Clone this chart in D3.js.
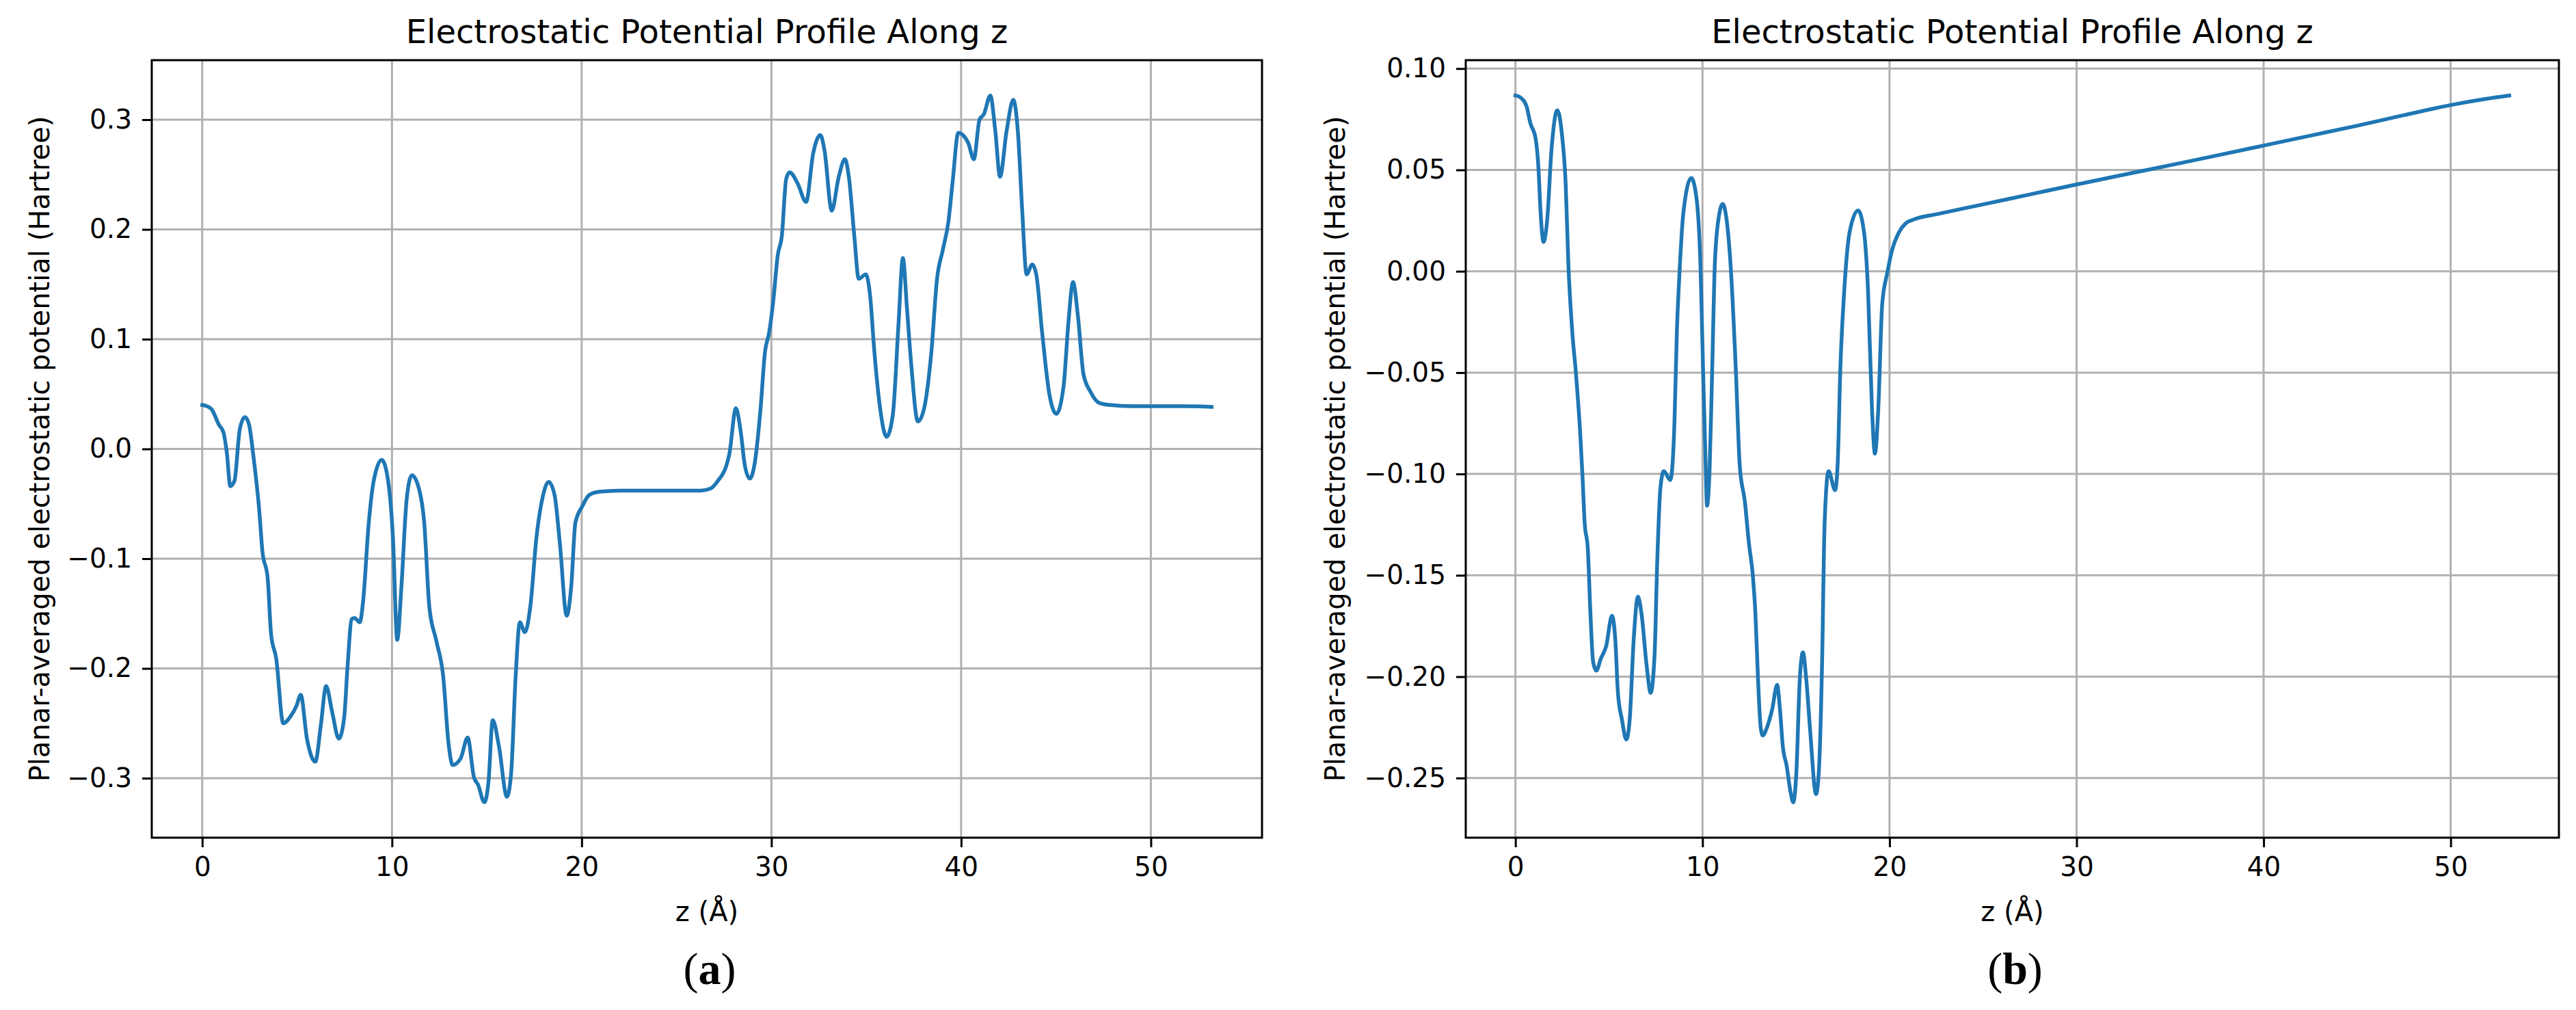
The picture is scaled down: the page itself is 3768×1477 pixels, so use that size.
<!DOCTYPE html>
<html><head><meta charset="utf-8">
<script src="https://cdn.jsdelivr.net/npm/d3@7"></script>
<style>html,body{margin:0;padding:0;background:#fff;} svg{display:block;}</style>
</head><body>
<script>
// ---- Data ----
const zA = [0.00,0.24,0.50,0.88,1.12,1.30,1.48,1.70,1.98,2.25,2.47,2.70,3.00,3.17,3.45,3.63,3.90,4.27,4.64,4.97,5.19,5.52,5.96,6.25,6.53,6.84,7.20,7.48,7.66,7.88,8.03,8.30,8.49,8.76,9.04,9.46,9.77,10.05,10.28,10.50,10.78,11.05,11.42,11.70,11.97,12.34,12.70,12.98,13.20,13.62,13.99,14.32,14.54,14.87,15.09,15.31,15.64,16.06,16.28,16.52,16.74,17.01,17.29,17.62,17.93,18.26,18.57,18.85,19.21,19.45,19.67,20.04,20.40,20.95,22.00,24.00,26.28,26.80,27.18,27.63,27.78,28.13,28.38,28.60,28.86,29.13,29.43,29.66,29.88,30.10,30.33,30.55,30.78,30.96,31.38,31.83,32.20,32.58,32.80,33.18,33.55,33.88,34.08,34.38,34.60,34.98,35.20,35.43,35.73,36.07,36.40,36.70,36.93,37.15,37.38,37.72,38.05,38.43,38.73,39.03,39.33,39.55,39.85,40.37,40.67,40.97,41.20,41.54,41.80,42.05,42.40,42.75,43.00,43.22,43.45,43.75,43.97,44.27,44.65,45.02,45.40,45.65,45.90,46.15,46.45,46.82,47.27,47.87,49.00,52.50,53.20];
const vA = [0.040,0.039,0.036,0.022,0.015,-0.004,-0.034,-0.029,0.018,0.029,0.022,-0.007,-0.055,-0.093,-0.118,-0.169,-0.191,-0.250,-0.244,-0.234,-0.224,-0.264,-0.285,-0.252,-0.216,-0.239,-0.264,-0.245,-0.198,-0.155,-0.154,-0.158,-0.137,-0.071,-0.029,-0.010,-0.026,-0.080,-0.174,-0.125,-0.045,-0.024,-0.036,-0.067,-0.144,-0.175,-0.207,-0.268,-0.288,-0.282,-0.263,-0.299,-0.306,-0.322,-0.303,-0.247,-0.271,-0.317,-0.296,-0.207,-0.158,-0.167,-0.144,-0.080,-0.045,-0.030,-0.042,-0.086,-0.152,-0.125,-0.067,-0.052,-0.042,-0.039,-0.038,-0.038,-0.038,-0.036,-0.029,-0.015,-0.005,0.037,0.016,-0.015,-0.027,-0.012,0.037,0.088,0.106,0.135,0.176,0.194,0.246,0.252,0.242,0.225,0.269,0.286,0.272,0.217,0.248,0.264,0.248,0.192,0.155,0.159,0.140,0.088,0.037,0.011,0.031,0.114,0.174,0.127,0.075,0.025,0.037,0.088,0.155,0.181,0.207,0.243,0.288,0.279,0.264,0.300,0.305,0.322,0.290,0.248,0.290,0.318,0.287,0.217,0.159,0.168,0.158,0.106,0.050,0.032,0.057,0.114,0.152,0.122,0.068,0.052,0.042,0.040,0.039,0.0388,0.0383];

const zB = [0.00,0.31,0.59,0.80,1.08,1.22,1.36,1.50,1.71,1.92,2.24,2.48,2.69,2.83,3.03,3.24,3.45,3.58,3.70,3.87,4.01,4.15,4.32,4.57,4.85,5.16,5.34,5.48,5.69,5.93,6.11,6.32,6.55,6.74,7.02,7.23,7.44,7.58,7.75,7.93,8.28,8.40,8.50,8.63,8.77,8.98,9.40,9.68,9.89,10.03,10.17,10.24,10.38,10.52,10.66,10.87,11.08,11.29,11.50,11.78,11.99,12.27,12.48,12.69,12.83,12.97,13.11,13.22,13.45,13.73,13.99,14.15,14.29,14.50,14.71,14.85,15.02,15.20,15.37,15.55,15.76,16.07,16.22,16.39,16.53,16.74,17.09,17.23,17.37,17.58,17.86,18.32,18.64,18.85,19.06,19.22,19.40,19.61,19.89,20.12,20.49,20.85,21.34,22.50,25.00,27.50,30.00,32.30,35.00,37.50,40.00,42.50,45.00,47.50,50.00,51.85,53.13];
const vB = [0.0867,0.0854,0.0815,0.073,0.0654,0.0525,0.0267,0.0145,0.0267,0.059,0.0794,0.068,0.042,0.0035,-0.0288,-0.051,-0.078,-0.100,-0.124,-0.137,-0.169,-0.1925,-0.197,-0.191,-0.185,-0.170,-0.182,-0.208,-0.221,-0.231,-0.221,-0.182,-0.1605,-0.169,-0.195,-0.208,-0.189,-0.1435,-0.107,-0.0986,-0.103,-0.095,-0.075,-0.030,-0.001,0.029,0.046,0.036,0.0035,-0.048,-0.096,-0.1157,-0.098,-0.048,0.0035,0.0267,0.0332,0.0254,0.0035,-0.048,-0.0956,-0.114,-0.134,-0.150,-0.169,-0.2015,-0.225,-0.229,-0.225,-0.216,-0.204,-0.217,-0.234,-0.244,-0.257,-0.262,-0.247,-0.2015,-0.188,-0.2015,-0.227,-0.258,-0.247,-0.195,-0.124,-0.0986,-0.108,-0.0945,-0.048,-0.0094,0.019,0.030,0.019,-0.0094,-0.0675,-0.090,-0.0675,-0.016,-0.0004,0.0099,0.019,0.0235,0.0257,0.0281,0.0330,0.0379,0.0428,0.0472,0.0523,0.0571,0.0620,0.0669,0.0718,0.0770,0.0820,0.0850,0.0867];

const xTickValues = [0, 10, 20, 30, 40, 50];
const yTickValuesA = [-0.3, -0.2, -0.1, 0.0, 0.1, 0.2, 0.3];
const yTickValuesB = [-0.25, -0.20, -0.15, -0.10, -0.05, 0.00, 0.05, 0.10];
const chartTitle = "Electrostatic Potential Profile Along z";
const xLabel = "z (Å)";
const yLabel = "Planar-averaged electrostatic potential (Hartree)";
const panelLetters = ["a", "b"];

// ---- Drawing ----
const W = 3768, H = 1477;
const FONT = "'DejaVu Sans', sans-serif";
const svg = d3.select("body").append("svg").attr("width", W).attr("height", H);
svg.append("rect").attr("width", W).attr("height", H).attr("fill", "#fff");

const panels = [
  {z: zA, v: vA, yTicks: yTickValuesA, fmt: d3.format(".1f"), box: {l: 222, r: 1846, t: 88, b: 1225}, ylabX: 72, letter: panelLetters[0]},
  {z: zB, v: vB, yTicks: yTickValuesB, fmt: d3.format(".2f"), box: {l: 2144, r: 3743, t: 88, b: 1225}, ylabX: 1967, letter: panelLetters[1]}
];

panels.forEach(p => {
  const {l, r, t, b} = p.box;
  const [z0, z1] = d3.extent(p.z);
  const zp = 0.05 * (z1 - z0);
  const [v0, v1] = d3.extent(p.v);
  const vp = 0.05 * (v1 - v0);
  const x = d3.scaleLinear().domain([z0 - zp, z1 + zp]).range([l, r]);
  const y = d3.scaleLinear().domain([v0 - vp, v1 + vp]).range([b, t]);
  const g = svg.append("g");

  // grid
  g.append("g").selectAll("line").data(xTickValues).join("line")
    .attr("x1", d => x(d)).attr("x2", d => x(d)).attr("y1", t).attr("y2", b)
    .attr("stroke", "#b0b0b0").attr("stroke-width", 3);
  g.append("g").selectAll("line").data(p.yTicks).join("line")
    .attr("y1", d => y(d)).attr("y2", d => y(d)).attr("x1", l).attr("x2", r)
    .attr("stroke", "#b0b0b0").attr("stroke-width", 3);

  // data line
  const pts = p.z.map((zz, i) => [zz, p.v[i]]);
  g.append("path").datum(pts)
    .attr("fill", "none").attr("stroke", "#1f77b4").attr("stroke-width", 5.5)
    .attr("stroke-linejoin", "round").attr("stroke-linecap", "square")
    .attr("d", d3.line().x(d => x(d[0])).y(d => y(d[1])).curve(d3.curveMonotoneX));

  // axes
  const xa = g.append("g").attr("transform", `translate(0,${b})`)
    .call(d3.axisBottom(x).tickValues(xTickValues).tickFormat(d3.format("d")).tickSize(14).tickPadding(14));
  const ya = g.append("g").attr("transform", `translate(${l},0)`)
    .call(d3.axisLeft(y).tickValues(p.yTicks).tickFormat(p.fmt).tickSize(14).tickPadding(15));
  [xa, ya].forEach(a => {
    a.select(".domain").remove();
    a.selectAll(".tick line").attr("stroke", "#000").attr("stroke-width", 3);
    a.selectAll(".tick text").attr("fill", "#000").style("font-family", FONT).style("font-size", "39px");
  });

  // spines
  g.append("rect").attr("x", l).attr("y", t).attr("width", r - l).attr("height", b - t)
    .attr("fill", "none").attr("stroke", "#000").attr("stroke-width", 3);

  const cx = (l + r) / 2;
  // title
  g.append("text").attr("x", cx).attr("y", 63).attr("text-anchor", "middle")
    .style("font-family", FONT).style("font-size", "48px").attr("fill", "#000").text(chartTitle);
  // x label
  g.append("text").attr("x", cx).attr("y", 1347).attr("text-anchor", "middle")
    .style("font-family", FONT).style("font-size", "40px").attr("fill", "#000").text(xLabel);
  // y label
  g.append("text").attr("transform", `translate(${p.ylabX},${(t + b) / 2}) rotate(-90)`)
    .attr("text-anchor", "middle")
    .style("font-family", FONT).style("font-size", "40px").attr("fill", "#000").text(yLabel);
  // panel caption
  const cap = g.append("text").attr("x", cx + 4).attr("y", 1439).attr("text-anchor", "middle")
    .style("font-family", "'Liberation Serif', 'Times New Roman', serif").style("font-size", "66px").attr("fill", "#000");
  cap.append("tspan").text("(");
  cap.append("tspan").style("font-weight", "bold").text(p.letter);
  cap.append("tspan").text(")");
});
</script>
</body></html>
